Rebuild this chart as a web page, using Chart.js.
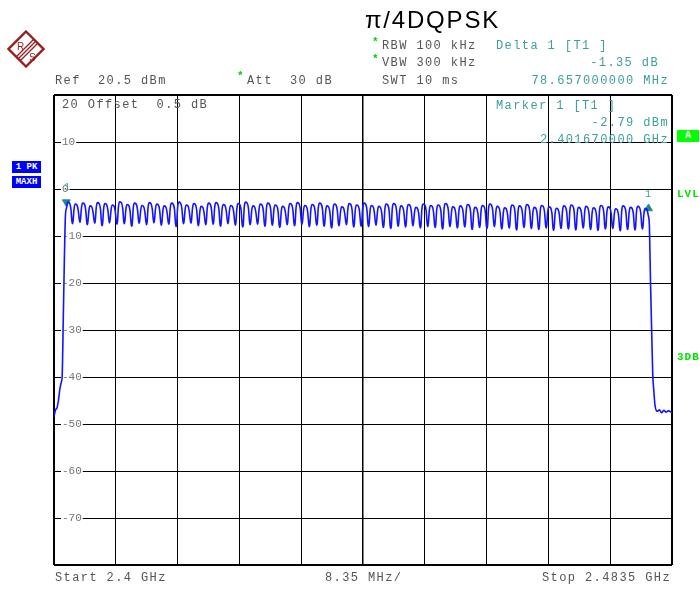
<!DOCTYPE html>
<html lang="en">
<head>
<meta charset="UTF-8">
<title>π/4DQPSK</title>
<script src="https://cdn.jsdelivr.net/npm/chart.js"></script>
<style>
    body { margin: 0; background: #fff; }
    #wrap { position: relative; width: 700px; height: 590px; overflow: hidden; }
    #chart-box { position: absolute; left: 0; top: 0; width: 700px; height: 590px; }
    .t {
        position: absolute;
        font-family: 'Liberation Mono', monospace;
        font-size: 12px;
        line-height: 12px;
        letter-spacing: 1.4px;
        color: #555;
        white-space: pre;
    }
    .teal { color: #3d9e9e; }
    .star { position: absolute; color: #00d000; font: bold 11px 'Liberation Mono', monospace; }
    .green { position: absolute; color: #00e600; font: bold 11px 'Liberation Mono', monospace; letter-spacing: 1px; }
    .box {
        position: absolute;
        color: #fff;
        font: bold 9px 'Liberation Mono', monospace;
        text-align: center;
        line-height: 12px;
    }
    #title {
        position: absolute;
        left: 365px;
        top: 8px;
        font-family: 'Liberation Sans', Arial, sans-serif;
        font-size: 24px;
        line-height: 24px;
        letter-spacing: 1.8px;
        color: #000;
    }
</style>
</head>
<body>
<div id="wrap">
    <div id="chart-box"><canvas id="spectrum"></canvas></div>

    <svg style="position:absolute;left:7px;top:30px" width="38" height="38" viewBox="0 0 38 38">
        <polygon points="19,1.5 36.5,19 19,36.5 1.5,19" fill="#fff" stroke="#9a1c1c" stroke-width="2.4"/>
        <line x1="27" y1="9" x2="9" y2="27" stroke="#9a1c1c" stroke-width="1.2"/>
        <line x1="29" y1="11" x2="11" y2="29" stroke="#9a1c1c" stroke-width="1.2"/>
        <line x1="31" y1="13" x2="13" y2="31" stroke="#9a1c1c" stroke-width="1.2"/>
        <text x="10" y="20" font-family="Liberation Sans" font-size="10" fill="#9a1c1c">R</text>
        <text x="22" y="31" font-family="Liberation Sans" font-size="10" fill="#9a1c1c">S</text>
    </svg>

    <div id="title">π/4DQPSK</div>

    <div class="t" style="left:55px;top:75px">Ref  20.5 dBm</div>
    <div class="star" style="left:237px;top:70px">*</div>
    <div class="t" style="left:247px;top:75px">Att  30 dB</div>

    <div class="star" style="left:372px;top:36px">*</div>
    <div class="t" style="left:382px;top:40px">RBW 100 kHz</div>
    <div class="star" style="left:372px;top:53px">*</div>
    <div class="t" style="left:382px;top:57px">VBW 300 kHz</div>
    <div class="t" style="left:382px;top:75px">SWT 10 ms</div>

    <div class="t teal" style="left:496px;top:40px">Delta 1 [T1 ]</div>
    <div class="t teal" style="right:41px;top:57px;text-align:right">-1.35 dB</div>
    <div class="t teal" style="right:31px;top:75px;text-align:right">78.657000000 MHz</div>

    <div class="t" style="left:62px;top:99px">20 Offset  0.5 dB</div>
    <div class="t teal" style="left:496px;top:100px">Marker 1 [T1 ]</div>
    <div class="t teal" style="right:31px;top:117px;text-align:right">-2.79 dBm</div>
    <div class="t teal" style="right:31px;top:134px;text-align:right">2.401670000 GHz</div>

    <div class="t teal" style="left:64px;top:182px;font-size:10px;letter-spacing:0">1</div>
    <div class="t teal" style="left:645px;top:189px;font-size:10px;letter-spacing:0">1</div>

    <div class="box" style="left:12px;top:161px;width:29px;height:12px;background:#0000ff">1 PK</div>
    <div class="box" style="left:12px;top:176px;width:29px;height:12px;background:#0000ff">MAXH</div>

    <div class="box" style="left:677px;top:130px;width:22px;height:12px;background:#00ff00;font-size:10px">A</div>
    <div class="green" style="left:677px;top:188px">LVL</div>
    <div class="green" style="left:677px;top:351px">3DB</div>

    <div class="t" style="left:55px;top:572px">Start 2.4 GHz</div>
    <div class="t" style="left:325px;top:572px">8.35 MHz/</div>
    <div class="t" style="right:29px;top:572px;text-align:right">Stop 2.4835 GHz</div>
</div>

<script>
    // frequency axis in MHz, level axis in dBm
    const startFreq = 2400;
    const stopFreq = 2483.5;
    const xGridTicks = [2400, 2408.35, 2416.7, 2425.05, 2433.4, 2441.75, 2450.1, 2458.45, 2466.8, 2475.15, 2483.5];
    const refLevel = 20;
    const bottomLevel = -80;

    // 79 hopping channels, first one at 2402 MHz, 1 MHz apart
    const firstChannel = 2402;
    const channelPeaks = [
        -2.8, -3.2, -3.0, -3.6, -2.9, -3.1, -3.4, -2.7, -3.3, -3.0,
        -3.5, -2.9, -3.2, -3.6, -3.0, -2.8, -3.4, -3.1, -3.7, -3.0,
        -2.9, -3.3, -3.5, -3.1, -2.8, -3.6, -3.2, -3.0, -3.4, -3.7,
        -3.1, -2.9, -3.5, -3.3, -3.0, -3.6, -3.2, -3.8, -3.1, -3.4,
        -3.0, -3.5, -3.7, -3.2, -3.1, -3.6, -3.3, -3.9, -3.2, -3.5,
        -3.4, -3.1, -3.8, -3.6, -3.3, -3.9, -3.5, -3.2, -3.7, -4.0,
        -3.4, -3.6, -3.3, -3.9, -3.5, -3.8, -4.1, -3.6, -3.4, -3.9,
        -3.7, -4.0, -3.5, -3.8, -4.2, -3.6, -3.9, -3.7, -4.1
    ];
    // dips between neighbouring channels
    const channelTroughs = [
        -7.4, -7.1, -7.6, -7.3, -7.8, -7.2, -7.5, -7.4, -7.9, -7.3,
        -7.6, -7.2, -7.7, -7.5, -8.0, -7.4, -7.3, -7.8, -7.6, -7.5,
        -7.9, -7.4, -7.7, -8.1, -7.6, -7.5, -7.9, -7.7, -8.2, -7.6,
        -7.8, -7.5, -8.0, -7.7, -7.9, -8.3, -7.8, -7.6, -8.1, -7.9,
        -8.0, -7.7, -8.2, -8.4, -7.9, -8.1, -7.8, -8.3, -8.0, -8.2,
        -8.5, -8.0, -8.3, -8.1, -8.6, -8.2, -8.4, -8.0, -8.5, -8.3,
        -8.7, -8.2, -8.4, -8.6, -8.3, -8.8, -8.4, -8.5, -8.7, -8.3,
        -8.6, -8.8, -8.5, -8.4, -8.9, -8.6, -8.7, -8.5
    ];
    const leftSkirt = [
        [2400.0, -48.5], [2400.2, -47.0], [2400.4, -46.6], [2400.6, -45.0],
        [2400.8, -42.5], [2401.0, -41.0], [2401.1, -40.0], [2401.25, -28.0],
        [2401.4, -15.0], [2401.55, -5.5]
    ];
    const rightSkirt = [
        [2480.45, -8.0], [2480.6, -20.0], [2480.75, -30.0], [2480.9, -39.5],
        [2481.05, -43.0], [2481.2, -46.0], [2481.5, -47.3], [2481.8, -47.0],
        [2482.1, -47.6], [2482.4, -47.1], [2482.7, -47.5], [2483.0, -47.2],
        [2483.5, -47.6]
    ];
    const marker1 = { x: 2401.67, y: -2.79 };
    const delta1 = { x: 2480.327, y: -4.14 };

    // each hop: steep rise, rounded top, steep fall, rounded dip
    const trace = leftSkirt.map(p => ({ x: p[0], y: p[1] }));
    channelPeaks.forEach((pk, k) => {
        const fc = firstChannel + k;
        trace.push({ x: fc - 0.3, y: pk - 1.2 });
        trace.push({ x: fc - 0.15, y: pk });
        trace.push({ x: fc + 0.1, y: pk - 0.2 });
        trace.push({ x: fc + 0.28, y: pk - 1.4 });
        if (k < channelTroughs.length) {
            const tr = channelTroughs[k];
            trace.push({ x: fc + 0.42, y: tr + 0.6 });
            trace.push({ x: fc + 0.5, y: tr });
            trace.push({ x: fc + 0.58, y: tr + 0.6 });
        }
    });
    rightSkirt.forEach(p => trace.push({ x: p[0], y: p[1] }));

    function frameWidth(ctx) {
        if (ctx.index === 0 || ctx.index === 10) return 2;
        if (ctx.index === 5) return 1.5;
        return 1;
    }

    new Chart(document.getElementById('spectrum'), {
        type: 'line',
        data: {
            datasets: [
                {
                    data: trace,
                    borderColor: 'rgb(20,20,255)',
                    borderWidth: 1.6,
                    pointRadius: 0,
                    cubicInterpolationMode: 'monotone'
                },
                {
                    data: [marker1],
                    showLine: false,
                    pointStyle: 'triangle',
                    rotation: 180,
                    pointRadius: 4.5,
                    backgroundColor: '#1f8a8a',
                    borderColor: '#1f8a8a'
                },
                {
                    data: [delta1],
                    showLine: false,
                    pointStyle: 'triangle',
                    pointRadius: 4.5,
                    backgroundColor: '#1f8a8a',
                    borderColor: '#1f8a8a'
                }
            ]
        },
        options: {
            responsive: true,
            maintainAspectRatio: false,
            animation: false,
            layout: { padding: { left: 54, right: 28, top: 95, bottom: 25 } },
            plugins: { legend: { display: false }, tooltip: { enabled: false } },
            scales: {
                x: {
                    type: 'linear',
                    min: startFreq,
                    max: stopFreq,
                    afterBuildTicks: s => { s.ticks = xGridTicks.map(v => ({ value: v })); },
                    afterFit: s => { s.height = 0; },
                    ticks: { display: false },
                    border: { display: false },
                    grid: { color: '#000', lineWidth: frameWidth, drawTicks: false }
                },
                y: {
                    min: bottomLevel,
                    max: refLevel,
                    afterFit: s => { s.width = 0; },
                    ticks: {
                        stepSize: 10,
                        mirror: true,
                        padding: 8,
                        color: '#777',
                        font: { family: 'Liberation Mono', size: 11 },
                        callback: v => (v === refLevel || v === bottomLevel) ? '' : v,
                        showLabelBackdrop: ctx => ctx.tick.value !== refLevel && ctx.tick.value !== bottomLevel,
                        backdropColor: '#fff',
                        backdropPadding: { x: 1, y: 0 }
                    },
                    border: { display: false },
                    grid: { color: '#000', lineWidth: (ctx) => (ctx.index === 0 || ctx.index === 10) ? 2 : 1, drawTicks: false }
                }
            }
        }
    });
</script>
</body>
</html>
